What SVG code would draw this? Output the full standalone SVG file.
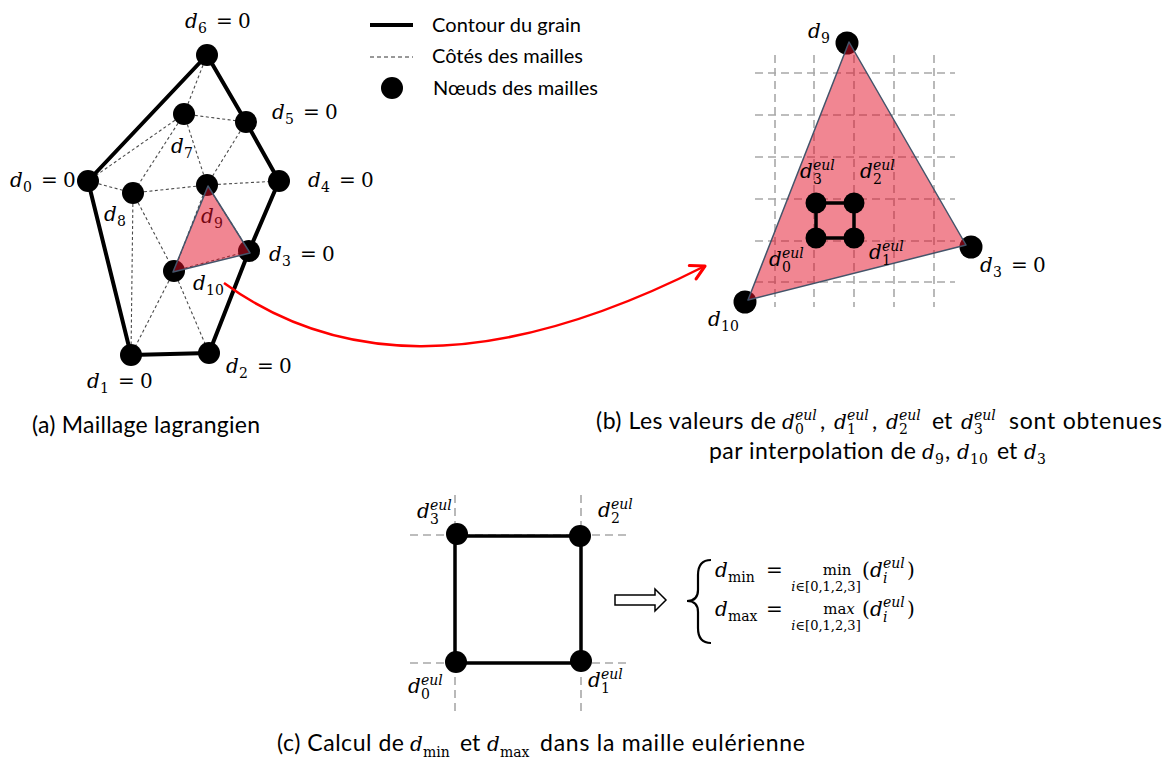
<svg xmlns="http://www.w3.org/2000/svg" width="1172" height="762" viewBox="0 0 1172 762">
<style>
.contour{stroke:#000;stroke-width:4;fill:none;stroke-linejoin:round;stroke-linecap:round}
.mesh{stroke:#4a4a4a;stroke-width:1.1;stroke-dasharray:3 2.5;fill:none}
.node{fill:#000}
.tri{fill:#e30d25;fill-opacity:0.5;stroke:#44546a;stroke-width:1.5;stroke-linejoin:round}
.grid{stroke:#a8a8a8;stroke-width:1.6;stroke-dasharray:8 5;fill:none}
.sq{stroke:#000;stroke-width:3.5;fill:none;stroke-linejoin:round}
.m{font-family:"DejaVu Serif","Liberation Serif",serif;fill:#000;font-size:20px}
.d{font-style:italic;font-size:20px}
.s{font-size:14px}
.e{font-style:italic;font-size:14px}
.op{font-size:15px}
.lim{font-size:13px}
.t{font-family:Lato,"Liberation Sans",Arial,sans-serif;fill:#000}
.cap{font-size:23px}
.leg{font-size:20px}
</style>
<defs>
<marker id="ah" markerUnits="userSpaceOnUse" markerWidth="20" markerHeight="20" viewBox="-12 -8 14 16" refX="0" refY="0" orient="auto">
<path d="M-11,-6 L0,0 L-11,6" fill="none" stroke="#ff0000" stroke-width="2.5" stroke-linecap="round" stroke-linejoin="round"/>
</marker>
</defs>
<rect width="1172" height="762" fill="#fff"/>

<!-- (a) Lagrangian mesh -->
<g id="mesh-edges">
<path class="mesh" d="M207,55L184,114 M184,114L246,122 M184,114L88,181 M184,114L133,193 M184,114L207,185 M246,122L207,185 M207,185L279,181 M133,193L207,185 M88,181L133,193 M133,193L131,355 M133,193L174,271 M174,271L131,355 M174,271L209,353 M207,185L174,271 M207,185L249,251 M174,271L249,251"/>
</g>
<g id="grain-contour">
<path class="contour" d="M207,55 L246,122 L279,181 L249,251 L209,353 L131,355 L88,181 Z"/>
</g>
<g id="mesh-nodes">
<circle class="node" cx="207" cy="55" r="11"/>
<circle class="node" cx="184" cy="114" r="11"/>
<circle class="node" cx="246" cy="122" r="11"/>
<circle class="node" cx="88" cy="181" r="11"/>
<circle class="node" cx="207" cy="185" r="11"/>
<circle class="node" cx="279" cy="181" r="11"/>
<circle class="node" cx="133" cy="193" r="11"/>
<circle class="node" cx="249" cy="251" r="11"/>
<circle class="node" cx="174" cy="271" r="11"/>
<circle class="node" cx="131" cy="355" r="11"/>
<circle class="node" cx="209" cy="353" r="11"/>
</g>
<g id="mesh-labels">
<text class="m"><tspan class="d" x="185" y="28">d</tspan><tspan class="s" x="198" y="33">6</tspan><tspan x="216" y="28">=</tspan><tspan x="238" y="28">0</tspan></text>
<text class="m"><tspan class="d" x="272" y="119">d</tspan><tspan class="s" x="285" y="124">5</tspan><tspan x="303" y="119">=</tspan><tspan x="325" y="119">0</tspan></text>
<text class="m"><tspan class="d" x="171" y="153">d</tspan><tspan class="s" x="184" y="158">7</tspan></text>
<text class="m"><tspan class="d" x="10" y="187">d</tspan><tspan class="s" x="23" y="192">0</tspan><tspan x="41" y="187">=</tspan><tspan x="63" y="187">0</tspan></text>
<text class="m"><tspan class="d" x="308" y="187">d</tspan><tspan class="s" x="321" y="192">4</tspan><tspan x="339" y="187">=</tspan><tspan x="361" y="187">0</tspan></text>
<text class="m"><tspan class="d" x="104" y="221">d</tspan><tspan class="s" x="117" y="226">8</tspan></text>
<text class="m"><tspan class="d" x="201" y="223">d</tspan><tspan class="s" x="214" y="228">9</tspan></text>
<text class="m"><tspan class="d" x="269" y="261">d</tspan><tspan class="s" x="282" y="266">3</tspan><tspan x="300" y="261">=</tspan><tspan x="322" y="261">0</tspan></text>
<text class="m"><tspan class="d" x="193" y="290">d</tspan><tspan class="s" x="206" y="295">10</tspan></text>
<text class="m"><tspan class="d" x="87" y="388">d</tspan><tspan class="s" x="100" y="393">1</tspan><tspan x="118" y="388">=</tspan><tspan x="140" y="388">0</tspan></text>
<text class="m"><tspan class="d" x="226" y="373">d</tspan><tspan class="s" x="239" y="378">2</tspan><tspan x="257" y="373">=</tspan><tspan x="279" y="373">0</tspan></text>
</g>
<g id="lagrangian-triangle">
<polygon class="tri" points="208,186 250,253 173,272"/>
</g>

<!-- legend -->
<g id="legend">
<line x1="370" y1="25" x2="413" y2="25" stroke="#000" stroke-width="4"/>
<line x1="370" y1="57" x2="413" y2="57" stroke="#333" stroke-width="1" stroke-dasharray="4 3"/>
<circle class="node" cx="392" cy="88" r="11"/>
<text class="t leg" x="432" y="32" textLength="149">Contour du grain</text>
<text class="t leg" x="432" y="63" textLength="151">Côtés des mailles</text>
<text class="t leg" x="433" y="95" textLength="165">Nœuds des mailles</text>
</g>

<!-- (b) Eulerian grid over triangle -->
<g id="eulerian-grid">
<path class="grid" d="M775,55V307 M814,55V307 M854,55V307 M894,55V307 M934,55V307 M755,73H955 M755,115H955 M755,157H955 M755,199H955 M755,241H955 M755,282H955"/>
</g>
<g id="tri-nodes">
<circle class="node" cx="847" cy="43" r="11.5"/>
<circle class="node" cx="971" cy="247" r="11.5"/>
<circle class="node" cx="745" cy="302" r="11.5"/>
</g>
<g id="zoomed-triangle">
<polygon class="tri" points="849,42 966,245 748,300"/>
</g>
<g id="eul-cell">
<path class="sq" d="M816,203H854V238H816Z"/>
<circle class="node" cx="816" cy="203" r="10.5"/>
<circle class="node" cx="854" cy="203" r="10.5"/>
<circle class="node" cx="816" cy="238" r="10.5"/>
<circle class="node" cx="854" cy="238" r="10.5"/>
</g>
<g id="tri-labels">
<text class="m"><tspan class="d" x="808" y="38">d</tspan><tspan class="s" x="821" y="43">9</tspan></text>
<text class="m"><tspan class="d" x="980" y="272">d</tspan><tspan class="s" x="993" y="277">3</tspan><tspan x="1011" y="272">=</tspan><tspan x="1033" y="272">0</tspan></text>
<text class="m"><tspan class="d" x="708" y="326">d</tspan><tspan class="s" x="721" y="331">10</tspan></text>
<text class="m"><tspan class="d" x="800" y="178">d</tspan><tspan class="e" x="813" y="170">eul</tspan><tspan class="s" x="813" y="184">3</tspan></text>
<text class="m"><tspan class="d" x="860" y="178">d</tspan><tspan class="e" x="873" y="170">eul</tspan><tspan class="s" x="873" y="184">2</tspan></text>
<text class="m"><tspan class="d" x="769" y="266">d</tspan><tspan class="e" x="782" y="258">eul</tspan><tspan class="s" x="782" y="272">0</tspan></text>
<text class="m"><tspan class="d" x="869" y="259">d</tspan><tspan class="e" x="882" y="251">eul</tspan><tspan class="s" x="882" y="265">1</tspan></text>
</g>

<!-- connector -->
<g id="connectors">
<path d="M224,283 C330,360 480,380 705,266" fill="none" stroke="#ff0000" stroke-width="2.5" marker-end="url(#ah)"/>
</g>

<!-- captions -->
<g id="caption-a">
<text class="t cap" x="32" y="433" textLength="228">(a) Maillage lagrangien</text>
</g>
<g id="caption-b">
<text class="t cap" x="596" y="429" textLength="180">(b) Les valeurs de</text>
<text class="m"><tspan class="d" x="782" y="429">d</tspan><tspan class="e" x="795" y="420">eul</tspan><tspan class="s" x="795" y="434">0</tspan></text>
<text class="t cap" x="820" y="429">,</text>
<text class="m"><tspan class="d" x="834" y="429">d</tspan><tspan class="e" x="847" y="420">eul</tspan><tspan class="s" x="847" y="434">1</tspan></text>
<text class="t cap" x="872" y="429">,</text>
<text class="m"><tspan class="d" x="886" y="429">d</tspan><tspan class="e" x="899" y="420">eul</tspan><tspan class="s" x="899" y="434">2</tspan></text>
<text class="t cap" x="932" y="429">et</text>
<text class="m"><tspan class="d" x="961" y="429">d</tspan><tspan class="e" x="974" y="420">eul</tspan><tspan class="s" x="974" y="434">3</tspan></text>
<text class="t cap" x="1009" y="429" textLength="153">sont obtenues</text>
<text class="t cap" x="709" y="459" textLength="207">par interpolation de</text>
<text class="m"><tspan class="d" x="922" y="459">d</tspan><tspan class="s" x="935" y="464">9</tspan></text>
<text class="t cap" x="945" y="459">,</text>
<text class="m"><tspan class="d" x="957" y="459">d</tspan><tspan class="s" x="970" y="464">10</tspan></text>
<text class="t cap" x="997" y="459">et</text>
<text class="m"><tspan class="d" x="1024" y="459">d</tspan><tspan class="s" x="1037" y="464">3</tspan></text>
</g>

<!-- (c) Eulerian cell -->
<g id="cell-grid">
<path class="grid" d="M455,495V712 M581,495V712 M410,535H628 M410,663H628" stroke-width="1.4"/>
</g>
<g id="cell">
<path class="sq" d="M455,536H581V663H455Z"/>
<circle class="node" cx="457" cy="534" r="11"/>
<circle class="node" cx="580" cy="536" r="11"/>
<circle class="node" cx="456" cy="662" r="11"/>
<circle class="node" cx="581" cy="661" r="11"/>
</g>
<g id="cell-labels">
<text class="m"><tspan class="d" x="417" y="518">d</tspan><tspan class="e" x="430" y="510">eul</tspan><tspan class="s" x="430" y="524">3</tspan></text>
<text class="m"><tspan class="d" x="598" y="517">d</tspan><tspan class="e" x="611" y="509">eul</tspan><tspan class="s" x="611" y="523">2</tspan></text>
<text class="m"><tspan class="d" x="408" y="693">d</tspan><tspan class="e" x="421" y="685">eul</tspan><tspan class="s" x="421" y="699">0</tspan></text>
<text class="m"><tspan class="d" x="588" y="687">d</tspan><tspan class="e" x="601" y="679">eul</tspan><tspan class="s" x="601" y="693">1</tspan></text>
</g>
<g id="implies-arrow">
<polygon points="615,595 655,595 655,589 666,600 655,611 655,605 615,605" fill="#fff" stroke="#000" stroke-width="1.5" stroke-linejoin="miter"/>
</g>
<g id="formula">
<path d="M711,560 C701,560 698,566 698,575 L698,590 C698,597 695,601 687,601 C695,601 698,605 698,612 L698,628 C698,637 701,643 711,643" fill="none" stroke="#000" stroke-width="2.2"/>
<text class="m"><tspan class="d" x="715" y="577">d</tspan><tspan class="s" x="728" y="582">min</tspan><tspan x="766" y="577">=</tspan></text>
<text class="m op" x="837" y="575" text-anchor="middle">min</text>
<text class="m lim" x="826" y="591" text-anchor="middle"><tspan font-style="italic">i</tspan>∈[0,1,2,3]</text>
<text class="m"><tspan x="862" y="577">(</tspan><tspan class="d" x="870" y="577">d</tspan><tspan class="e" x="883" y="568">eul</tspan><tspan class="e" x="883" y="583">i</tspan><tspan x="907" y="577">)</tspan></text>
<text class="m"><tspan class="d" x="715" y="616">d</tspan><tspan class="s" x="728" y="621">max</tspan><tspan x="766" y="616">=</tspan></text>
<text class="m op" x="839" y="614" text-anchor="middle">ma<tspan font-style="italic">x</tspan></text>
<text class="m lim" x="826" y="630" text-anchor="middle"><tspan font-style="italic">i</tspan>∈[0,1,2,3]</text>
<text class="m"><tspan x="862" y="616">(</tspan><tspan class="d" x="870" y="616">d</tspan><tspan class="e" x="883" y="607">eul</tspan><tspan class="e" x="883" y="622">i</tspan><tspan x="907" y="616">)</tspan></text>
</g>
<g id="caption-c">
<text class="t cap" x="277" y="751" textLength="127">(c) Calcul de</text>
<text class="m"><tspan class="d" x="410" y="751">d</tspan><tspan class="s" x="423" y="757">min</tspan></text>
<text class="t cap" x="460" y="751">et</text>
<text class="m"><tspan class="d" x="487" y="751">d</tspan><tspan class="s" x="500" y="757">max</tspan></text>
<text class="t cap" x="540" y="751" textLength="265">dans la maille eulérienne</text>
</g>
</svg>
